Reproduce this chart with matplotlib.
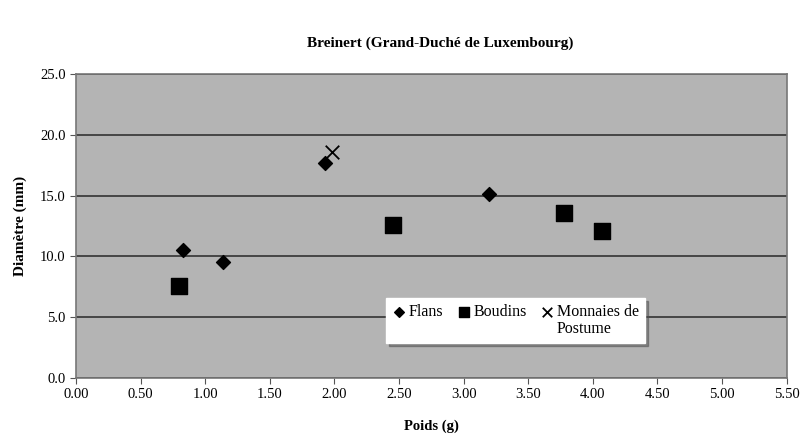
import matplotlib
matplotlib.use("Agg")
import matplotlib.pyplot as plt
from matplotlib.lines import Line2D
from matplotlib.ticker import FormatStrFormatter

# data
flans_x = [0.83, 1.14, 1.93, 3.20]
flans_y = [10.5, 9.5, 17.7, 15.1]
boudins_x = [0.80, 2.45, 3.78, 4.07]
boudins_y = [7.6, 12.6, 13.6, 12.1]
monnaies_x = [1.98]
monnaies_y = [18.6]

plt.rcParams['font.family'] = ['Liberation Serif', 'DejaVu Serif']

fig = plt.figure(figsize=(8.03, 4.37), dpi=100)
ax = fig.add_axes([0.0946, 0.135, 0.885, 0.696])
ax.set_facecolor('#b4b4b4')

h1 = ax.scatter(flans_x, flans_y, marker='D', s=50, color='black', zorder=3)
h2 = ax.scatter(boudins_x, boudins_y, marker='s', s=120, color='black', zorder=3)
h3 = ax.scatter(monnaies_x, monnaies_y, marker='x', s=95, color='black', linewidths=1.3, zorder=3)

ax.set_xlim(0, 5.5)
ax.set_ylim(0, 25)
ax.set_xticks([i * 0.5 for i in range(12)])
ax.set_yticks([0, 5, 10, 15, 20, 25])
ax.xaxis.set_major_formatter(FormatStrFormatter('%.2f'))
ax.yaxis.set_major_formatter(FormatStrFormatter('%.1f'))
ax.tick_params(labelsize=10.5, direction='out', length=4, color='#555555')
ax.grid(axis='y', color='#333333', linewidth=1.2)
ax.set_axisbelow(True)
for sp in ax.spines.values():
    sp.set_color('#777777')
    sp.set_linewidth(1.2)

ax.set_xlabel('Poids (g)', fontsize=10.5, fontweight='bold', labelpad=13)
ax.set_ylabel('Diamètre (mm)', fontsize=11, fontweight='bold', labelpad=9)
fig.text(0.548, 0.9, 'Breinert (Grand-Duché de Luxembourg)', ha='center', va='center',
         fontsize=11, fontweight='bold')

# legend: second row holds the wrapped part of the last label
blank = Line2D([], [], linestyle='none', marker='')
handles = [h1, blank, h2, blank, h3, blank]
labels = ['Flans', '', 'Boudins', '', 'Monnaies de', 'Postume']
leg = ax.legend(handles, labels, loc='upper left', bbox_to_anchor=(0.425, 0.29), ncol=3,
                frameon=True, fancybox=False, shadow=True, fontsize=11.5,
                handlelength=0.8, handletextpad=0.2, columnspacing=0.9,
                labelspacing=0.05, borderpad=0.4, markerscale=0.7)
leg.get_frame().set_edgecolor('white')
leg.get_frame().set_facecolor('white')

fig.savefig('out.png', dpi=100)
